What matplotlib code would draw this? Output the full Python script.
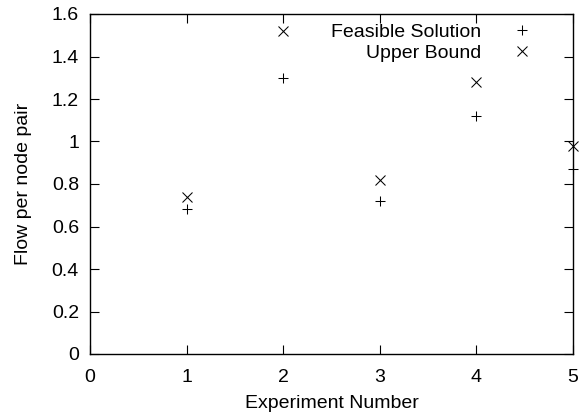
import matplotlib
matplotlib.use("Agg")
import matplotlib.pyplot as plt

plt.rcParams['font.family'] = ['Liberation Sans', 'DejaVu Sans']

experiments = [1, 2, 3, 4, 5]
feasible = [0.68, 1.30, 0.72, 1.12, 0.87]
upper = [0.74, 1.52, 0.82, 1.28, 0.98]
xticks = [0, 1, 2, 3, 4, 5]
yticks = [0, 0.2, 0.4, 0.6, 0.8, 1.0, 1.2, 1.4, 1.6]
ytick_labels = ['0', '0.2', '0.4', '0.6', '0.8', '1', '1.2', '1.4', '1.6']

FS = 14
fig = plt.figure(figsize=(5.87, 4.13), dpi=100)
ax = fig.add_axes([90/587, 59/413, 483/587, 340/413])

ax.plot(experiments, feasible, linestyle='none', marker='+', color='black',
        markersize=7, markeredgewidth=0.75, label='Feasible Solution', clip_on=False)
ax.plot(experiments, upper, linestyle='none', marker='x', color='black',
        markersize=7, markeredgewidth=0.75, label='Upper Bound', clip_on=False)

ax.set_xlim(0, 5)
ax.set_ylim(0, 1.6)
ax.set_xticks(xticks)
ax.set_xticklabels([str(v) for v in xticks])
ax.set_yticks(yticks)
ax.set_yticklabels(ytick_labels)
ax.tick_params(direction='in', top=True, right=True, length=6.5, width=0.8,
               labelsize=FS, colors='black')
ax.tick_params(axis='y', pad=8)
ax.tick_params(axis='x', pad=11)
for s in ax.spines.values():
    s.set_linewidth(1.0)

ax.set_xlabel('Experiment Number', fontsize=FS, labelpad=6)
ax.set_ylabel('Flow per node pair', fontsize=FS, labelpad=14)

leg = ax.legend(loc='upper right', bbox_to_anchor=(537/587, (413-23)/413),
                bbox_transform=fig.transFigure, frameon=False,
                markerfirst=False, fontsize=FS, handlelength=1.5,
                handletextpad=1.35, labelspacing=0.2, borderpad=0,
                borderaxespad=0)

fig.savefig('out.png', dpi=100)
